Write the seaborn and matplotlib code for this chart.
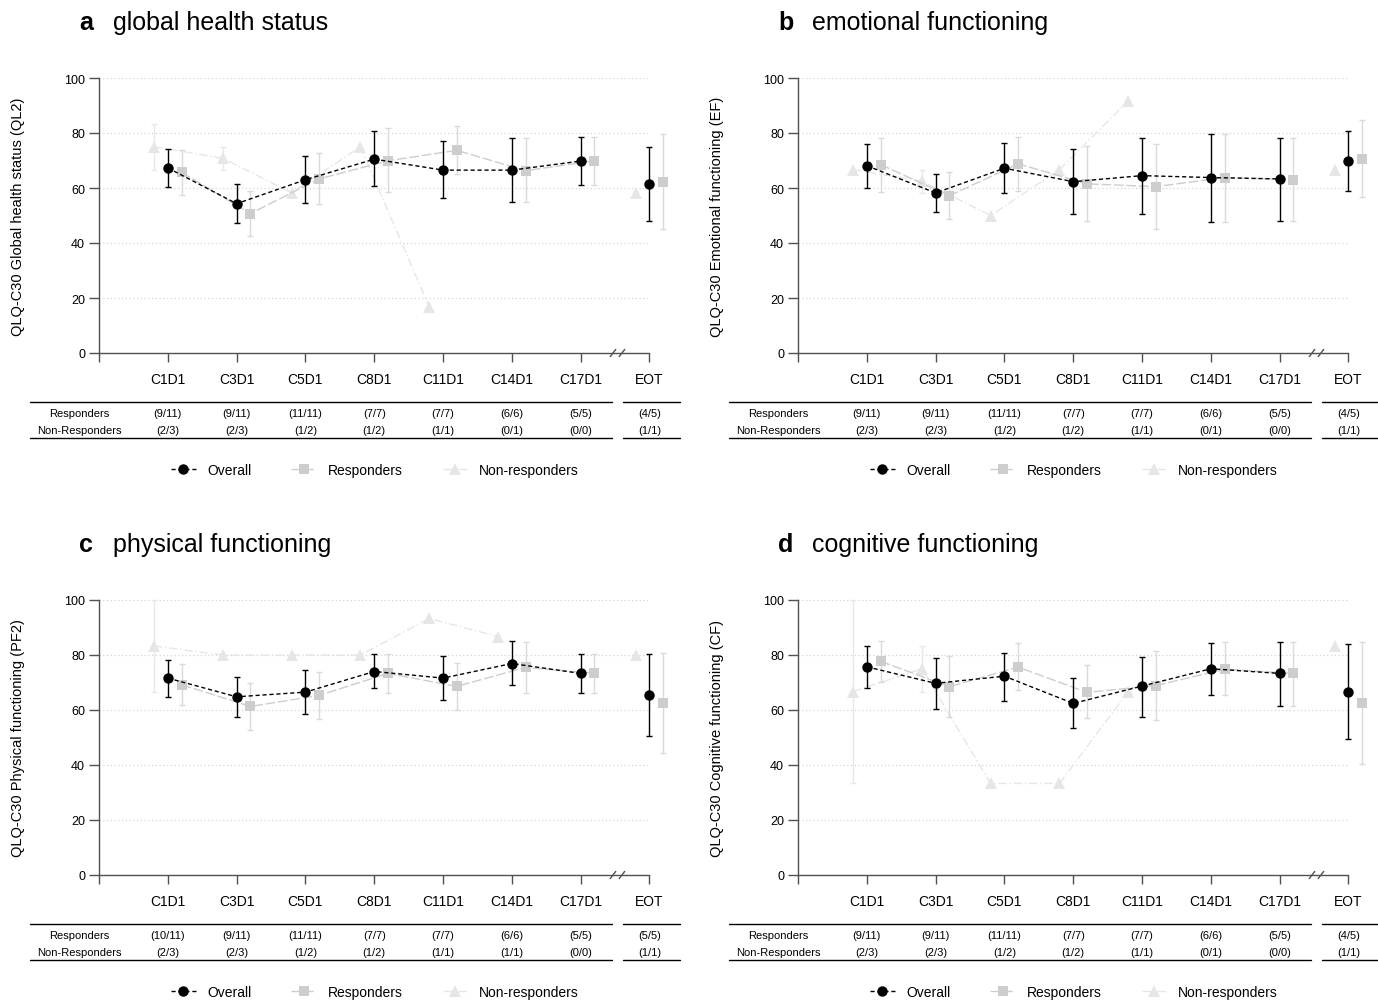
import numpy as np
import pandas as pd
import matplotlib.pyplot as plt
import seaborn as sns
from matplotlib.lines import Line2D

nan = np.nan

# ===== data =====
visits = ["C1D1", "C3D1", "C5D1", "C8D1", "C11D1", "C14D1", "C17D1", "EOT"]
segment = [0, 0, 0, 0, 0, 0, 0, 1]

# a. global health status
ql_ov = [67.3, 54.3, 63.0, 70.5, 66.5, 66.5, 69.8, 61.5]
ql_ov_lo = [60.5, 47.4, 54.5, 60.6, 56.2, 54.9, 61.2, 48.1]
ql_ov_hi = [74.2, 61.6, 71.5, 80.8, 77.0, 78.2, 78.5, 74.9]
ql_rs = [65.7, 50.7, 63.3, 69.9, 73.7, 66.3, 69.9, 62.3]
ql_rs_lo = [57.5, 42.7, 54.2, 58.5, 65.1, 54.9, 61.1, 45.1]
ql_rs_hi = [73.9, 58.8, 72.7, 81.8, 82.4, 78.2, 78.5, 79.6]
ql_nr = [75.0, 70.8, 58.3, 75.0, 16.7, nan, nan, 58.3]
ql_nr_lo = [66.7, 66.7, nan, nan, nan, nan, nan, nan]
ql_nr_hi = [83.3, 75.0, nan, nan, nan, nan, nan, nan]

# b. emotional functioning
ef_ov = [68.1, 58.2, 67.2, 62.3, 64.5, 63.8, 63.3, 69.8]
ef_ov_lo = [60.1, 51.3, 58.1, 50.5, 50.5, 47.8, 48.0, 59.0]
ef_ov_hi = [76.0, 65.1, 76.4, 74.2, 78.3, 79.6, 78.3, 80.7]
ef_rs = [68.5, 57.2, 68.8, 61.5, 60.5, 63.8, 63.0, 70.7]
ef_rs_lo = [58.5, 48.7, 58.9, 48.1, 45.1, 47.8, 48.0, 56.8]
ef_rs_hi = [78.2, 65.8, 78.7, 75.4, 76.0, 79.8, 78.3, 84.6]
ef_nr = [66.7, 62.5, 50.0, 66.7, 91.7, nan, nan, 66.7]
ef_nr_lo = [nan, 58.3, nan, nan, nan, nan, nan, nan]
ef_nr_hi = [nan, 66.7, nan, nan, nan, nan, nan, nan]

# c. physical functioning
pf_ov = [71.6, 64.8, 66.5, 74.0, 71.6, 76.9, 73.3, 65.5]
pf_ov_lo = [64.8, 57.4, 58.6, 68.1, 63.7, 69.2, 66.3, 50.5]
pf_ov_hi = [78.3, 72.1, 74.6, 80.2, 79.5, 85.1, 80.2, 80.3]
pf_rs = [69.2, 61.3, 65.3, 73.3, 68.6, 75.5, 73.3, 62.4]
pf_rs_lo = [61.8, 52.8, 56.8, 66.3, 60.1, 66.3, 66.3, 44.5]
pf_rs_hi = [76.7, 69.9, 73.9, 80.3, 77.1, 84.8, 80.3, 80.7]
pf_nr = [83.3, 80.0, 80.0, 80.0, 93.3, 86.7, nan, 80.0]
pf_nr_lo = [66.7, nan, nan, nan, nan, nan, nan, nan]
pf_nr_hi = [100.0, nan, nan, nan, nan, nan, nan, nan]

# d. cognitive functioning
cf_ov = [75.7, 69.7, 72.3, 62.4, 68.7, 75.0, 73.3, 66.5]
cf_ov_lo = [68.1, 60.3, 63.3, 53.4, 57.5, 65.5, 61.4, 49.5]
cf_ov_hi = [83.3, 79.0, 80.9, 71.7, 79.4, 84.5, 84.7, 84.1]
cf_rs = [77.7, 68.5, 75.6, 66.4, 68.9, 74.8, 73.3, 62.4]
cf_rs_lo = [70.1, 57.3, 67.2, 57.0, 56.5, 65.5, 61.4, 40.5]
cf_rs_hi = [85.2, 79.8, 84.3, 76.2, 81.6, 84.6, 84.7, 84.6]
cf_nr = [66.7, 75.0, 33.3, 33.3, 66.7, nan, nan, 83.3]
cf_nr_lo = [33.3, 66.7, nan, nan, nan, nan, nan, nan]
cf_nr_hi = [100.0, 83.3, nan, nan, nan, nan, nan, nan]

resp_n = ["(9/11)", "(9/11)", "(11/11)", "(7/7)", "(7/7)", "(6/6)", "(5/5)", "(4/5)"]
nonresp_n = ["(2/3)", "(2/3)", "(1/2)", "(1/2)", "(1/1)", "(0/1)", "(0/0)", "(1/1)"]
resp_n_pf = ["(10/11)", "(9/11)", "(11/11)", "(7/7)", "(7/7)", "(6/6)", "(5/5)", "(5/5)"]
nonresp_n_pf = ["(2/3)", "(2/3)", "(1/2)", "(1/2)", "(1/1)", "(1/1)", "(0/0)", "(1/1)"]

# ===== style =====
sns.set_style("white")
plt.rcParams["font.family"] = ["Liberation Sans", "DejaVu Sans"]
plt.rcParams["text.color"] = "black"
plt.rcParams["axes.labelcolor"] = "black"
plt.rcParams["xtick.color"] = "black"
plt.rcParams["ytick.color"] = "black"

groups = ["Non-responders", "Responders", "Overall"]
offset = {"Non-responders": -0.2, "Responders": 0.2, "Overall": 0.0}
color = {"Non-responders": "#e6e6e6", "Responders": "#cdcdcd", "Overall": "black"}
ecolor = {"Non-responders": "#e8e8e8", "Responders": "#dadada", "Overall": "black"}
marker = {"Non-responders": "^", "Responders": "s", "Overall": "o"}
msize = {"Non-responders": 8.5, "Responders": 7.5, "Overall": 7.5}
lstyle = {"Non-responders": (0, (6, 2, 1, 2)), "Responders": (0, (7, 2)), "Overall": (0, (3, 2))}
zord = {"Non-responders": 3, "Responders": 4, "Overall": 6}

W, H = 1378, 1003
fig = plt.figure(figsize=(W / 100, H / 100), dpi=100)


def px_axes(left, top, width, height):
    return fig.add_axes([left / W, 1 - (top + height) / H, width / W, height / H])


def draw_panel(ax, letter, title, ylabel, series, rn, nn):
    rows = []
    for g, (m, lo, hi) in series.items():
        for i, v in enumerate(visits):
            rows.append({"group": g, "visit": v, "x": i + 1 + offset[g],
                         "seg": segment[i], "mean": m[i], "lo": lo[i], "hi": hi[i]})
    df = pd.DataFrame(rows)

    for y in [20, 40, 60, 80, 100]:
        ax.hlines(y, 0, 8, colors="#d4d4d4", linestyles=(0, (1, 2)), linewidth=0.9, zorder=0)

    for g in groups:
        d = df[(df.group == g) & df["mean"].notna()]
        e = d[d.lo.notna()]
        ax.errorbar(e.x, e["mean"], yerr=[e["mean"] - e.lo, e.hi - e["mean"]], fmt="none",
                    ecolor=ecolor[g], elinewidth=1.0, capsize=2, capthick=1.0,
                    zorder=zord[g] - 1, clip_on=False)
        sns.lineplot(data=d, x="x", y="mean", units="seg", estimator=None, sort=False,
                     color=color[g], marker=marker[g], markersize=msize[g],
                     markeredgewidth=0, linewidth=1.0, linestyle=lstyle[g],
                     ax=ax, legend=False, zorder=zord[g], clip_on=False)

    ax.set_xlim(0, 8.4)
    ax.set_ylim(0, 100)
    sns.despine(ax=ax)
    ax.spines["left"].set_bounds(0, 100)
    ax.spines["bottom"].set_bounds(0, 8)
    for s in ["left", "bottom"]:
        ax.spines[s].set_color("#505050")
        ax.spines[s].set_linewidth(1.0)
    ax.set_yticks([0, 20, 40, 60, 80, 100])
    ax.set_xticks(range(9))
    ax.set_xticklabels([])
    ax.tick_params(axis="y", length=7, width=1, color="#505050", labelcolor="black",
                   labelsize=9, pad=3, left=True)
    ax.tick_params(axis="x", length=6.5, width=1, color="#505050", bottom=True)
    ax.set_xlabel("")
    ax.set_ylabel(ylabel, fontsize=10.5, color="black")
    ax.yaxis.set_label_coords(-0.128, 0.5)

    # axis break marks
    for bx in [7.47, 7.6]:
        ax.plot([bx - 0.04, bx + 0.04], [-1.3, 1.3], color="#505050", lw=1, clip_on=False, zorder=7)

    tr = ax.get_xaxis_transform()
    for i, v in enumerate(visits):
        ax.text(i + 1, -0.094, v, transform=tr, ha="center", va="center", fontsize=10)
        ax.text(i + 1, -0.217, rn[i], transform=tr, ha="center", va="center", fontsize=8)
        ax.text(i + 1, -0.279, nn[i], transform=tr, ha="center", va="center", fontsize=8)
    ax.text(-0.28, -0.217, "Responders", transform=tr, ha="center", va="center", fontsize=8)
    ax.text(-0.28, -0.279, "Non-Responders", transform=tr, ha="center", va="center", fontsize=8)
    for yy in [-0.179, -0.309]:
        ax.plot([-1.0, 7.46], [yy, yy], transform=tr, color="black", lw=1, clip_on=False)
        ax.plot([7.62, 8.45], [yy, yy], transform=tr, color="black", lw=1, clip_on=False)

    handles = [Line2D([], [], color=color[g], linestyle=lstyle[g], marker=marker[g],
                      markersize=msize[g], markeredgewidth=0, lw=1.0)
               for g in ["Overall", "Responders", "Non-responders"]]
    leg = ax.legend(handles, ["Overall", "Responders", "Non-responders"], loc="center",
                    bbox_to_anchor=(0.477, -0.425), ncol=3, frameon=False, fontsize=10,
                    handlelength=1.8, handletextpad=0.8, columnspacing=2.9)
    for t in leg.get_texts():
        t.set_color("black")

    pos = ax.get_position()
    top_px = (1 - pos.y1) * H
    left_px = pos.x0 * W
    fig.text((left_px - 20) / W, 1 - (top_px - 56) / H, letter, fontsize=18,
             fontweight="bold", ha="left", va="center", color="black")
    fig.text((left_px + 14) / W, 1 - (top_px - 56) / H, title, fontsize=18,
             ha="left", va="center", color="black")


ax_a = px_axes(99, 79, 578, 275)
ax_b = px_axes(798, 79, 578, 275)
ax_c = px_axes(99, 601, 578, 275)
ax_d = px_axes(798, 601, 578, 275)

draw_panel(ax_a, "a", "global health status", "QLQ-C30 Global health status (QL2)",
           {"Non-responders": (ql_nr, ql_nr_lo, ql_nr_hi),
            "Responders": (ql_rs, ql_rs_lo, ql_rs_hi),
            "Overall": (ql_ov, ql_ov_lo, ql_ov_hi)}, resp_n, nonresp_n)
draw_panel(ax_b, "b", "emotional functioning", "QLQ-C30 Emotional functioning (EF)",
           {"Non-responders": (ef_nr, ef_nr_lo, ef_nr_hi),
            "Responders": (ef_rs, ef_rs_lo, ef_rs_hi),
            "Overall": (ef_ov, ef_ov_lo, ef_ov_hi)}, resp_n, nonresp_n)
draw_panel(ax_c, "c", "physical functioning", "QLQ-C30 Physical functioning (PF2)",
           {"Non-responders": (pf_nr, pf_nr_lo, pf_nr_hi),
            "Responders": (pf_rs, pf_rs_lo, pf_rs_hi),
            "Overall": (pf_ov, pf_ov_lo, pf_ov_hi)}, resp_n_pf, nonresp_n_pf)
draw_panel(ax_d, "d", "cognitive functioning", "QLQ-C30 Cognitive functioning (CF)",
           {"Non-responders": (cf_nr, cf_nr_lo, cf_nr_hi),
            "Responders": (cf_rs, cf_rs_lo, cf_rs_hi),
            "Overall": (cf_ov, cf_ov_lo, cf_ov_hi)}, resp_n, nonresp_n)

fig.savefig("out.png", dpi=100, facecolor="white")
